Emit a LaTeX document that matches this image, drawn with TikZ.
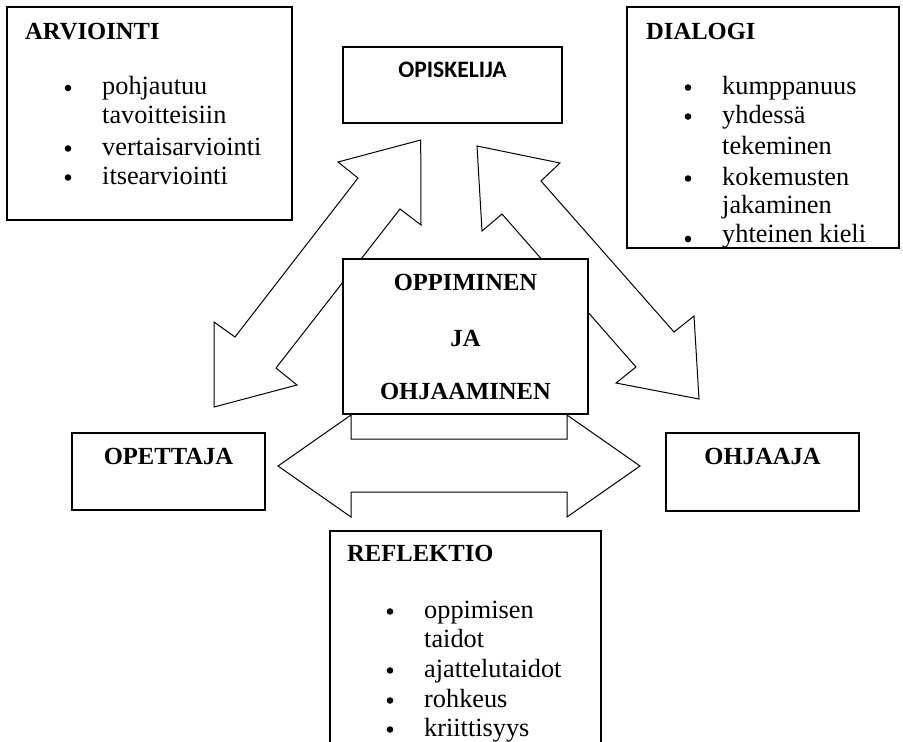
\documentclass[tikz,border=0pt]{standalone}
\usepackage{fontspec}
\setmainfont{Liberation Serif}
\newfontfamily\labelsans{Carlito}
\begin{document}
\begin{tikzpicture}[x=1pt,y=-1pt,
  box/.style={draw, line width=1.2pt, fill=white, inner sep=0pt},
  blockarrow/.style={draw, line width=1pt, fill=white, line join=miter},
  txt/.style={inner sep=0pt, anchor=base west, font=\fontsize{26.3}{29.7}\selectfont},
  ttl/.style={inner sep=0pt, anchor=base west, font=\fontsize{24.6}{29.7}\selectfont\bfseries},
  ctr/.style={inner sep=0pt, anchor=base, font=\fontsize{24.6}{29.7}\selectfont\bfseries},
  dot/.style={circle, fill, inner sep=0pt, minimum size=6.6pt}]
\useasboundingbox (0,0) rectangle (903,742);

% two diagonal double arrows and the horizontal one
\draw[blockarrow] (420.7,140) -- (421,225) -- (400,209) -- (276,368) -- (297,385)
  -- (214,407) -- (214,322) -- (235,337) -- (358,178) -- (338,162) -- cycle;
\draw[blockarrow] (477,146) -- (560,163) -- (541,181) -- (674,332) -- (694,316)
  -- (699,399) -- (616,383) -- (636,367) -- (502,214) -- (482,231) -- cycle;
\draw[blockarrow] (278,466) -- (351,415) -- (351,439) -- (567,439) -- (567,415)
  -- (640,466) -- (567,517) -- (567,492) -- (351,492) -- (351,517) -- cycle;

% boxes
\node[box, minimum width=285pt, minimum height=213pt] (arv) at (149.5,113.5) {};
\node[box, minimum width=272pt, minimum height=241pt] (dia) at (763,127.5) {};
\node[box, minimum width=219pt, minimum height=76pt] (opi) at (452.5,85) {};
\node[box, minimum width=245pt, minimum height=155pt] (opp) at (465.5,336.5) {};
\node[box, minimum width=193pt, minimum height=77pt] (ope) at (168.5,471.5) {};
\node[box, minimum width=193pt, minimum height=78pt] (ohj) at (762.5,472) {};
\draw[line width=1.2pt] (330,742) -- (330,531) -- (601,531) -- (601,742);

% ARVIOINTI
\node[ttl] (arvt) at (25,39.3) {ARVIOINTI};
\node[dot] (ab1) at (68,88) {};
\node[txt] (a1) at (102,94.3) {pohjautuu};
\node[txt] (a1b) at (102,123.5) {tavoitteisiin};
\node[dot] (ab2) at (68,148.5) {};
\node[txt] (a2) at (102,155) {vertaisarviointi};
\node[dot] (ab3) at (68,177.5) {};
\node[txt] (a3) at (102,184) {itsearviointi};

% DIALOGI
\node[ttl] (diat) at (646,39) {DIALOGI};
\node[dot] (db1) at (688,87.5) {};
\node[txt] (d1) at (722,94) {kumppanuus};
\node[dot] (db2) at (688,116.5) {};
\node[txt] (d2) at (722,123) {yhdessä};
\node[txt] (d2b) at (722,154) {tekeminen};
\node[dot] (db3) at (688,178.5) {};
\node[txt] (d3) at (722,185) {kokemusten};
\node[txt] (d3b) at (722,213) {jakaminen};
\node[dot] (db4) at (688,239) {};
\node[txt] (d4) at (722,242) {yhteinen kieli};

% central labels
\node[inner sep=0pt, anchor=base, font=\labelsans\fontsize{23.6}{28}\selectfont\bfseries] (opit) at (452.5,77.7) {OPISKELIJA};
\node[ctr] (opp1) at (465.5,290) {OPPIMINEN};
\node[ctr] (opp2) at (465.5,346) {JA};
\node[ctr] (opp3) at (465.5,399) {OHJAAMINEN};
\node[ctr] (opet) at (168.5,464) {OPETTAJA};
\node[ctr] (ohjt) at (762.5,464) {OHJAAJA};

% REFLEKTIO
\node[ttl] (reft) at (347,561) {REFLEKTIO};
\node[dot] (rb1) at (390,611.5) {};
\node[txt] (r1) at (424,618) {oppimisen};
\node[txt] (r1b) at (424,647) {taidot};
\node[dot] (rb2) at (390,670.5) {};
\node[txt] (r2) at (424,677) {ajattelutaidot};
\node[dot] (rb3) at (390,700.5) {};
\node[txt] (r3) at (424,707) {rohkeus};
\node[dot] (rb4) at (390,729.5) {};
\node[txt] (r4) at (424,736) {kriittisyys};
\end{tikzpicture}
\end{document}
